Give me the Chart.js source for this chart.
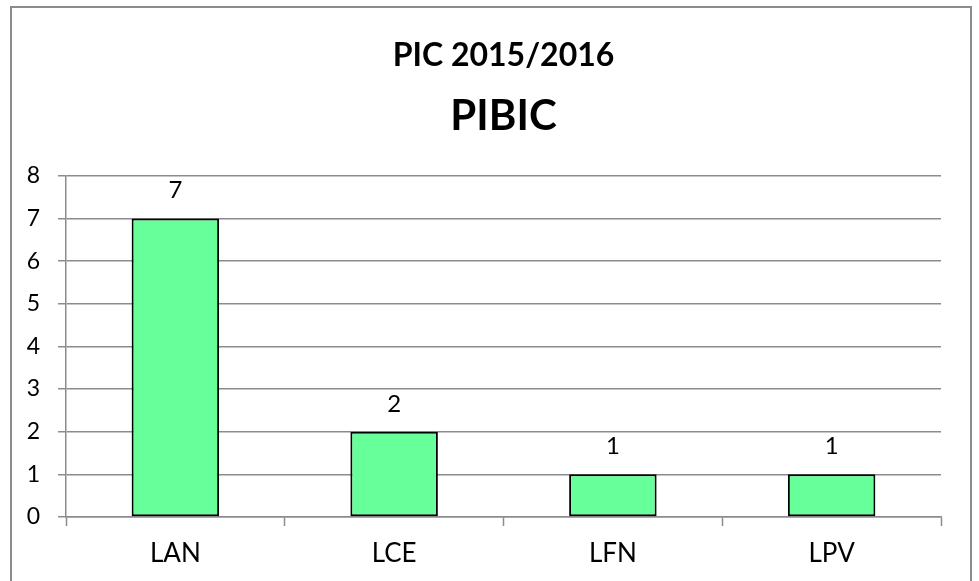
<!DOCTYPE html>
<html>
<head>
<meta charset="utf-8">
<script src="https://cdn.jsdelivr.net/npm/chart.js@4"></script>
<style>
  html, body { margin: 0; padding: 0; background: #fff; }
  #wrap { position: relative; width: 979px; height: 581px; overflow: hidden; }
  #frame {
    position: absolute; left: 10px; top: 6px; width: 958px; height: 600px;
    border: 2px solid #8c8c8c; border-bottom: none;
  }
  canvas { position: absolute; left: 0; top: 0; }
</style>
</head>
<body>
<div id="wrap">
  <div id="frame"></div>
  <canvas id="barChart" width="979" height="581"></canvas>
</div>
<script>
const categories = ["LAN", "LCE", "LFN", "LPV"];
const values = [7, 2, 1, 1];
const yTicks = [0, 1, 2, 3, 4, 5, 6, 7, 8];

const FONT = "Lato, 'Open Sans', sans-serif";
const gridColor = "#8c8c8c";

// value labels above each bar
const barLabels = {
  id: "barLabels",
  afterDatasetsDraw(chart) {
    const ctx = chart.ctx;
    const meta = chart.getDatasetMeta(0);
    ctx.save();
    ctx.fillStyle = "#000";
    ctx.font = "24px " + FONT;
    ctx.textAlign = "center";
    ctx.textBaseline = "alphabetic";
    meta.data.forEach((bar, i) => {
      ctx.fillText(String(values[i]), bar.x, bar.y - 20);
    });
    ctx.restore();
  }
};

const barCtx = document.getElementById("barChart");

if (barCtx) {
  new Chart(barCtx, {
    type: "bar",
    data: {
      labels: categories,
      datasets: [{
        label: "PIBIC",
        data: values,
        backgroundColor: "#66ff99",
        borderColor: "#000",
        borderWidth: 2,
        borderSkipped: false,
        barPercentage: 0.4,
        categoryPercentage: 1
      }]
    },
    options: {
      responsive: false,
      animation: false,
      layout: {
        padding: { left: 10, right: 38, top: 0, bottom: 0 }
      },
      plugins: {
        legend: { display: false },
        tooltip: { enabled: false },
        title: {
          display: true,
          fullSize: false,
          text: "PIC 2015/2016",
          color: "#000",
          font: { family: FONT, size: 32, weight: "bold" },
          padding: { top: 36, bottom: 17 }
        },
        subtitle: {
          display: true,
          fullSize: false,
          text: "PIBIC",
          color: "#000",
          font: { family: FONT, size: 42, weight: "bold" },
          padding: { top: 0, bottom: 34 }
        }
      },
      scales: {
        x: {
          offset: true,
          grid: {
            display: true,
            drawOnChartArea: false,
            drawTicks: true,
            tickLength: 9,
            tickColor: gridColor,
            tickWidth: 1.5,
            offset: true
          },
          border: { display: true, color: gridColor, width: 1.5 },
          ticks: {
            color: "#000",
            font: { family: FONT, size: 26 },
            padding: 12
          },
          afterFit(scale) { scale.height = 64; }
        },
        y: {
          min: 0,
          max: 8,
          afterBuildTicks(scale) {
            scale.ticks = yTicks.map(v => ({ value: v }));
          },
          grid: {
            color: gridColor,
            lineWidth: 1.5,
            tickLength: 8,
            tickColor: gridColor
          },
          border: { display: true, color: gridColor, width: 1.5 },
          ticks: {
            color: "#000",
            font: { family: FONT, size: 23 },
            padding: 18
          },
          afterFit(scale) { scale.width = 56; }
        }
      }
    },
    plugins: [barLabels]
  });
}
</script>
</body>
</html>
